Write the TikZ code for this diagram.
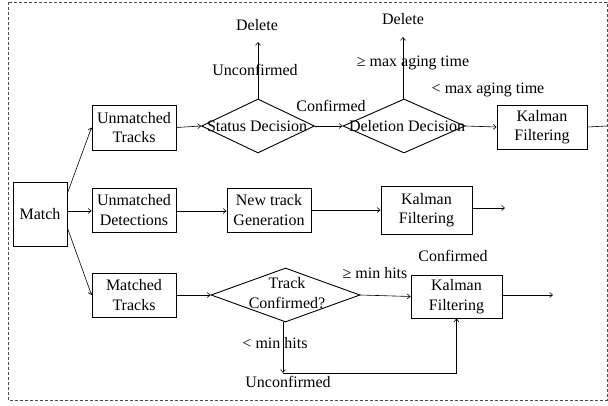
\documentclass[tikz,border=0pt]{standalone}
\usepackage{fontspec}
\setmainfont{Liberation Serif}
\usetikzlibrary{shapes.geometric,arrows.meta}
\begin{document}
\begin{tikzpicture}[x=1pt,y=-1pt,
  font=\fontsize{16}{19.5}\selectfont,
  box/.style={draw,line width=0.9pt,inner sep=0pt,align=center,
    minimum width=84pt,minimum height=44pt},
  dec/.style={draw,diamond,line width=0.9pt,inner sep=0pt},
  arr/.style={line width=0.6pt,-{Straight Barb[length=3pt,width=5pt]}},
  conn/.style={line width=0.6pt},
  lbl/.style={inner sep=0pt,align=center}]
\useasboundingbox (0,0) rectangle (608,406);
% outer frame
\draw[gray!60!black,line width=0.7pt,dash pattern=on 3pt off 2pt] (8,2) rectangle (607,400);

% boxes
\node[box,minimum width=54pt,minimum height=64pt] (match) at (40,214) {Match};
\node[box,minimum height=45pt] (ut) at (134,127.5) {Unmatched\\Tracks};
\node[box] (ud) at (134,210) {Unmatched\\Detections};
\node[box] (mt) at (134,295) {Matched\\Tracks};
\node[box] (ng) at (269,210) {New track\\Generation};
\node[box,minimum width=90pt] (k1) at (542,127) {Kalman\\Filtering};
\node[box,minimum width=91pt,minimum height=48pt] (k2) at (426.5,210) {Kalman\\Filtering};
\node[box,minimum width=91pt,minimum height=43pt] (k3) at (456.5,296.5) {Kalman\\Filtering};

% decisions
\node[dec,minimum width=113pt,minimum height=54pt] (sd) at (258,126) {};
\node[lbl] at (257,126) {Status Decision};
\node[dec,minimum width=122pt,minimum height=54pt] (dd) at (404,126) {};
\node[lbl] at (407,126) {Deletion Decision};
\node[dec,minimum width=149pt,minimum height=54pt] (tc) at (285.5,295) {};
\node[lbl] at (287,293) {Track\\Confirmed?};

% text labels
\node[lbl] (del1) at (257,25) {Delete};
\node[lbl] (del2) at (403,19) {Delete};
\node[lbl] at (255,70) {Unconfirmed};
\node[lbl] at (331,106) {Confirmed};
\node[lbl] at (413,63) {≥ max aging time};
\node[lbl] at (488,90) {< max aging time};
\node[lbl] at (375,273) {≥ min hits};
\node[lbl] at (453,256) {Confirmed};
\node[lbl] at (275,343) {< min hits};
\node[lbl] at (288,382) {Unconfirmed};

% free ends
\coordinate (d1) at (258,42);
\coordinate (d2) at (403,37);
\coordinate (edge) at (607,126);
\coordinate (o2) at (505,208);
\coordinate (o3) at (553,295);
\coordinate (low) at (283,373);

% connectors
\draw[arr] (match.east |- 0,193) -- (ut.west);
\draw[arr] (match.east |- 0,211) -- (ud.west |- 0,211);
\draw[arr] (match.east |- 0,228) -- (mt.west);
\draw[arr] (ut.east) -- (sd.west);
\draw[arr] (sd.north) -- (d1);
\draw[arr] (sd.east) -- (dd.west);
\draw[arr] (dd.north -| d2) -- (d2);
\draw[arr] (dd.east) -- (k1.west);
\draw[conn] (k1.east) -- (edge);
\draw[arr] (ud.east |- 0,211) -- (ng.west |- 0,211);
\draw[arr] (ng.east) -- (k2.west);
\draw[arr] (k2.east |- o2) -- (o2);
\draw[arr] (mt.east) -- (tc.west);
\draw[arr] (tc.east) -- (k3.west);
\draw[arr] (k3.east |- o3) -- (o3);
\draw[arr] (low |- tc.south) -- (low);
\draw[arr] (low) -| (k3.south);
\end{tikzpicture}
\end{document}
